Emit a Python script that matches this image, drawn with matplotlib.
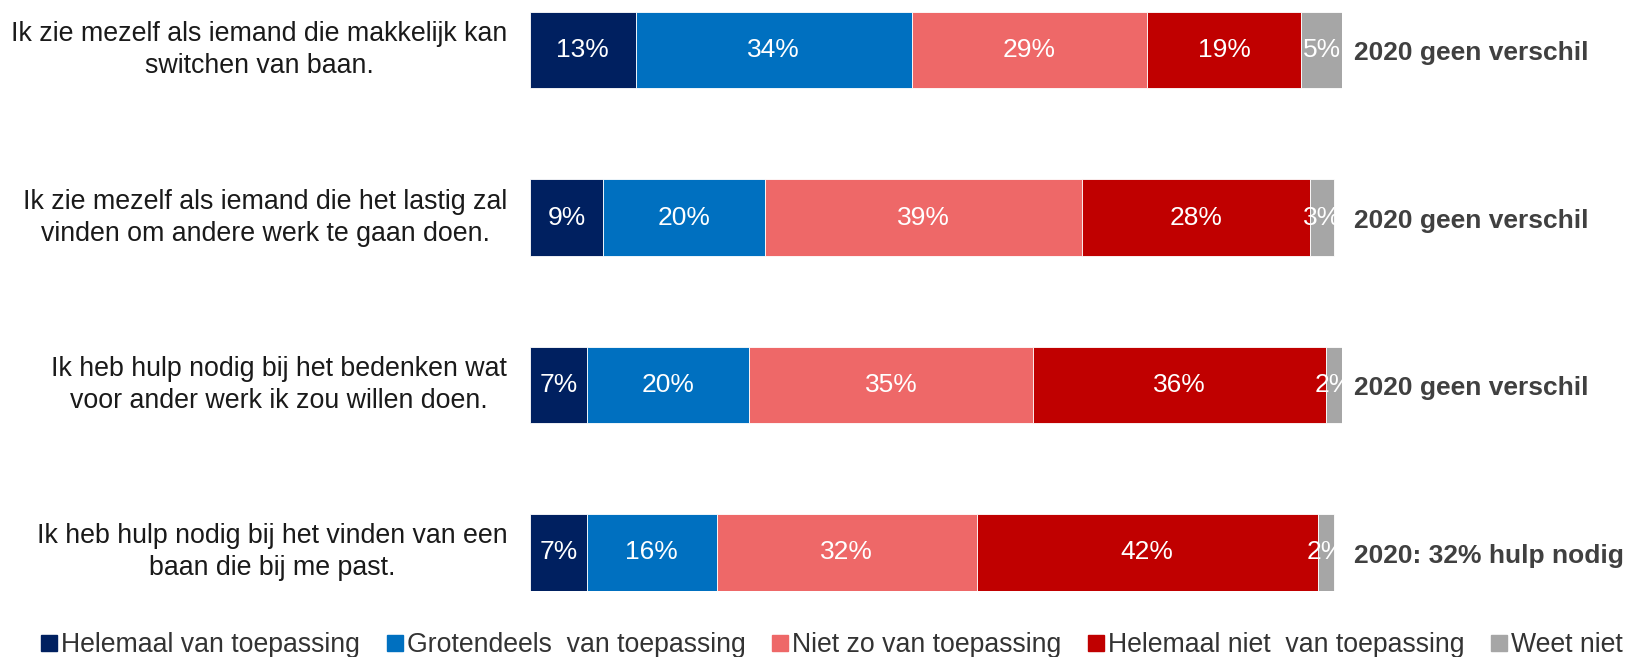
import matplotlib
matplotlib.use("Agg")
import matplotlib.pyplot as plt
from matplotlib.lines import Line2D

plt.rcParams['font.family'] = ['Liberation Sans', 'DejaVu Sans']

statements = [
    "Ik zie mezelf als iemand die makkelijk kan\nswitchen van baan.",
    "Ik zie mezelf als iemand die het lastig zal\nvinden om andere werk te gaan doen.",
    "Ik heb hulp nodig bij het bedenken wat\nvoor ander werk ik zou willen doen.",
    "Ik heb hulp nodig bij het vinden van een\nbaan die bij me past.",
]
categories = ["Helemaal van toepassing", "Grotendeels  van toepassing",
              "Niet zo van toepassing", "Helemaal niet  van toepassing", "Weet niet"]
helemaal = [13, 9, 7, 7]
grotendeels = [34, 20, 20, 16]
niet_zo = [29, 39, 35, 32]
helemaal_niet = [19, 28, 36, 42]
weet_niet = [5, 3, 2, 2]
notes = ["2020 geen verschil", "2020 geen verschil", "2020 geen verschil", "2020: 32% hulp nodig"]

colors = ["#002060", "#0070C0", "#EE6868", "#C00000", "#A6A6A6"]
series = [helemaal, grotendeels, niet_zo, helemaal_niet, weet_niet]

fig = plt.figure(figsize=(16.32, 6.57), dpi=100)
ax = fig.add_axes([530/1632, (657-590.5)/657, 812/1632, (590.5-12)/657])

ypos = list(range(len(statements)))
left = [0]*len(statements)
for vals, col in zip(series, colors):
    ax.barh(ypos, vals, left=left, height=0.454, color=col, edgecolor='white', linewidth=0.6)
    for i, v in enumerate(vals):
        ax.text(left[i] + v/2, i, f"{v}%", ha='center', va='center', color='white', fontsize=19)
    left = [l + v for l, v in zip(left, vals)]

for i, s in enumerate(statements):
    ax.text(-2.8, i, s, ha='right', va='center', multialignment='center', fontsize=19.3, color='#1a1a1a', linespacing=1.3)
    ax.text(101.5, i + 0.02, notes[i], ha='left', va='center', fontsize=19, fontweight='bold', color='#404040')

ax.set_xlim(0, 100)
ax.set_ylim(3.227, -0.227)
ax.axis('off')

handles = [Line2D([0], [0], marker='s', linestyle='none', markersize=12, markerfacecolor=c, markeredgecolor=c) for c in colors]
fig.legend(handles, categories, loc='center', bbox_to_anchor=(0.51, 0.018), ncol=5, frameon=False,
           fontsize=19.2, handlelength=0.6, handletextpad=0.15, columnspacing=1.0, labelcolor='#333333')

fig.savefig("out.png", dpi=100)
